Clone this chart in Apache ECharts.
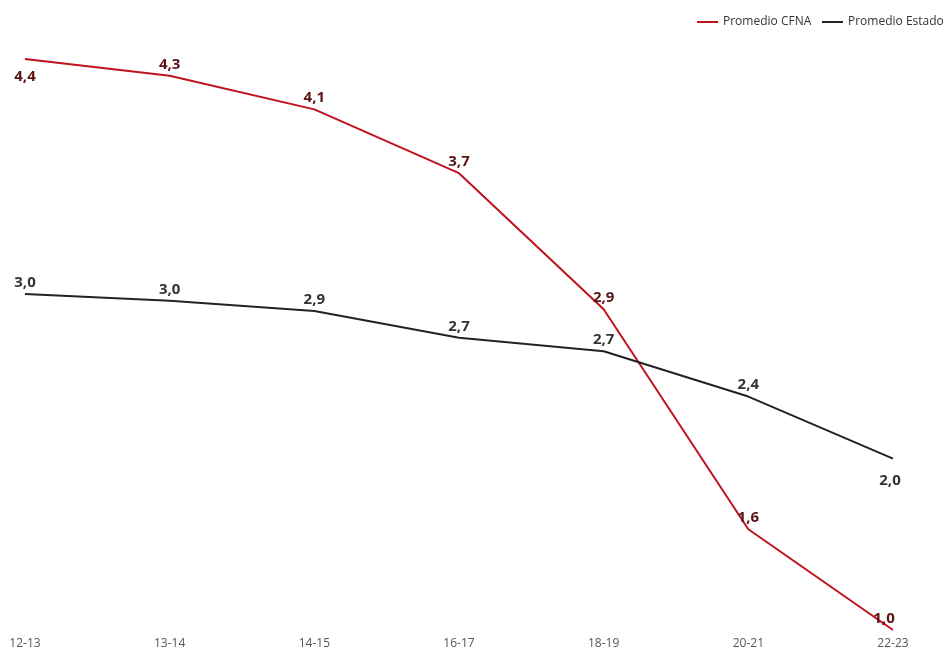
<!DOCTYPE html>
<html><head><meta charset="utf-8">
<script src="https://cdn.jsdelivr.net/npm/echarts@6/dist/echarts.min.js"></script>
<style>html,body{margin:0;padding:0;background:#fff}#c{width:947px;height:655px}</style>
</head><body><div id="c"></div>
<script>
const categories = ['12-13','13-14','14-15','16-17','18-19','20-21','22-23'];
const cfna = [4.4, 4.3, 4.1, 3.72, 2.91, 1.6, 1.0];
const estado = [3.0, 2.96, 2.9, 2.74, 2.66, 2.39, 2.02];
const seriesNames = ['Promedio CFNA', 'Promedio Estado'];

const fmt = p => p.value.toFixed(1).replace('.', ',');
const legendBase = {
  top: 11, itemWidth: 21, itemHeight: 2, icon: 'rect',
  textStyle: { fontSize: 12, color: '#333', fontFamily: 'Open Sans' }
};
const chart = echarts.init(document.getElementById('c'));
chart.setOption({
  animation: false,
  backgroundColor: '#fff',
  textStyle: { fontFamily: 'Open Sans' },
  legend: [
    Object.assign({ left: 692, data: [seriesNames[0]] }, legendBase),
    Object.assign({ left: 817, data: [seriesNames[1]] }, legendBase)
  ],
  grid: { left: 25, right: 54, top: 59, bottom: 25 },
  xAxis: {
    type: 'category', data: categories, boundaryGap: false,
    axisLine: { show: false }, axisTick: { show: false },
    axisLabel: { color: '#555', fontSize: 12, margin: 8, fontFamily: 'Open Sans' }
  },
  yAxis: {
    type: 'value', min: 1.0, max: 4.4, show: false,
    splitLine: { show: false }
  },
  series: [
    {
      name: seriesNames[0], type: 'line', data: cfna,
      symbol: 'circle', symbolSize: 0, showSymbol: true,
      lineStyle: { color: '#c0121e', width: 2 }, itemStyle: { color: '#c0121e' },
      label: {
        show: true, position: 'top', distance: 4, formatter: fmt,
        color: '#5a1414', fontSize: 15, fontWeight: 'bold', fontFamily: 'Open Sans'
      },
      labelLayout: function (p) {
        if (p.dataIndex === 0) return { dy: 29 };
        if (p.dataIndex === 6) return { dx: -9 };
        return {};
      }
    },
    {
      name: seriesNames[1], type: 'line', data: estado,
      symbol: 'circle', symbolSize: 0, showSymbol: true,
      lineStyle: { color: '#222', width: 2 }, itemStyle: { color: '#222' },
      label: {
        show: true, position: 'top', distance: 4, formatter: fmt,
        color: '#333', fontSize: 15, fontWeight: 'bold', fontFamily: 'Open Sans'
      },
      labelLayout: function (p) {
        if (p.dataIndex === 6) return { dy: 34, dx: -3 };
        return {};
      }
    }
  ]
});
</script></body></html>
